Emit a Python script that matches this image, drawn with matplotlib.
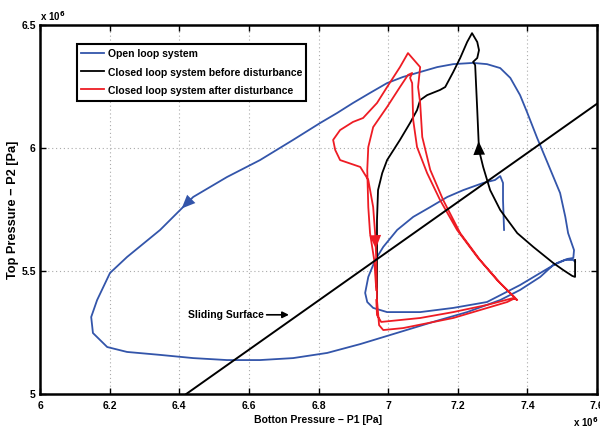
import matplotlib
matplotlib.use('Agg')
import matplotlib.pyplot as plt

plt.rcParams['font.family'] = ['Liberation Sans', 'DejaVu Sans']
plt.rcParams['font.weight'] = 'bold'

# P1 (fondo) y P2 (tope), en unidades de 1e6 Pa
# lazo abierto
open_p1 = [7.333, 7.330, 7.330, 7.322, 7.307, 7.273, 7.216, 7.170, 7.121, 7.072,
           7.026, 6.986, 6.963, 6.943, 6.934, 6.940, 6.957, 6.997, 7.092, 7.187,
           7.284, 7.379, 7.437, 7.486, 7.514, 7.532, 7.534, 7.517, 7.509, 7.494,
           7.457, 7.428, 7.399, 7.379, 7.351, 7.322, 7.284, 7.244, 7.187, 7.141,
           7.092, 7.043, 6.997, 6.948, 6.899, 6.853, 6.805, 6.727, 6.632, 6.537,
           6.440, 6.345, 6.250, 6.201, 6.164, 6.147, 6.152, 6.193, 6.250, 6.345,
           6.440, 6.537, 6.632, 6.727, 6.825, 6.920, 7.034, 7.129, 7.227, 7.322,
           7.379, 7.437, 7.474, 7.509, 7.532, 7.537]
open_p2 = [5.667, 5.789, 5.858, 5.886, 5.870, 5.858, 5.829, 5.801, 5.760, 5.720,
           5.667, 5.598, 5.545, 5.476, 5.411, 5.374, 5.350, 5.333, 5.333, 5.350,
           5.374, 5.443, 5.492, 5.533, 5.549, 5.553, 5.585, 5.654, 5.720, 5.817,
           5.943, 6.041, 6.146, 6.215, 6.285, 6.325, 6.341, 6.346, 6.341, 6.329,
           6.309, 6.289, 6.264, 6.224, 6.183, 6.142, 6.102, 6.033, 5.951, 5.882,
           5.801, 5.667, 5.557, 5.492, 5.382, 5.313, 5.248, 5.191, 5.171, 5.159,
           5.146, 5.138, 5.138, 5.146, 5.167, 5.203, 5.252, 5.293, 5.333, 5.382,
           5.423, 5.476, 5.524, 5.545, 5.545, 5.537]

# lazo cerrado antes de la perturbacion
antes_p1 = [7.537, 7.537, 7.529, 7.503, 7.474, 7.417, 7.371, 7.322, 7.293, 7.273,
            7.261, 7.256, 7.250, 7.244, 7.256, 7.261, 7.256, 7.241, 7.227, 7.207,
            7.187, 7.164, 7.149, 7.112, 7.092, 7.083, 7.063, 7.034, 6.997, 6.983,
            6.971, 6.968, 6.968, 6.968]
antes_p2 = [5.545, 5.476, 5.480, 5.504, 5.533, 5.598, 5.654, 5.748, 5.829, 5.923,
            5.992, 6.154, 6.337, 6.350, 6.366, 6.398, 6.431, 6.467, 6.431, 6.366,
            6.309, 6.248, 6.236, 6.215, 6.195, 6.154, 6.102, 6.033, 5.951, 5.898,
            5.829, 5.707, 5.545, 5.382]

# lazo cerrado despues de la perturbacion
despues_p1 = [6.966, 6.968, 6.980, 7.092, 7.187, 7.284, 7.359, 7.371, 7.322, 7.264,
              7.207, 7.158, 7.121, 7.098, 7.092, 7.086, 7.092, 7.057, 7.034, 6.997,
              6.968, 6.928, 6.899, 6.862, 6.842, 6.848, 6.862, 6.920, 6.943, 6.957,
              6.963, 6.966, 6.968, 6.974, 6.986, 7.043, 7.187, 7.342, 7.365, 7.313,
              7.256, 7.198, 7.149, 7.112, 7.083, 7.072, 7.069, 7.063, 7.069, 7.057,
              7.034, 6.997, 6.957, 6.943, 6.940, 6.943, 6.948, 6.960, 6.966]
despues_p2 = [5.382, 5.321, 5.293, 5.309, 5.333, 5.362, 5.390, 5.382, 5.451, 5.545,
              5.654, 5.789, 5.911, 6.045, 6.183, 6.248, 6.329, 6.386, 6.329, 6.248,
              6.183, 6.122, 6.106, 6.073, 6.033, 5.992, 5.951, 5.923, 5.870, 5.760,
              5.646, 5.545, 5.382, 5.280, 5.260, 5.268, 5.309, 5.374, 5.390, 5.463,
              5.557, 5.667, 5.789, 5.898, 6.004, 6.114, 6.264, 6.285, 6.305, 6.297,
              6.248, 6.167, 6.085, 6.004, 5.911, 5.760, 5.654, 5.545, 5.423]

# superficie de deslizamiento
sup_p1 = [6.42, 7.60]
sup_p2 = [5.00, 6.18]

azul = '#3355aa'
rojo = '#ee1c24'


def flecha(ax, xs, ys, i, t, color):
    # punta de flecha sobre el tramo i -> i+1
    xa = xs[i] + t * (xs[i + 1] - xs[i])
    ya = ys[i] + t * (ys[i + 1] - ys[i])
    ax.annotate('', xy=(xa, ya), xytext=(xs[i], ys[i]),
                arrowprops=dict(arrowstyle='-|>,head_length=0.7,head_width=0.3',
                                color=color, lw=0, shrinkA=0, shrinkB=0,
                                mutation_scale=14))


fig = plt.figure(figsize=(6, 4.3), dpi=100)
ax = fig.add_axes([0.0667, 0.0837, 0.9283, 0.8581])

ax.plot(open_p1, open_p2, color=azul, lw=1.3, label='Open loop system')
ax.plot(antes_p1, antes_p2, color='black', lw=1.3, label='Closed loop system before disturbance')
ax.plot(despues_p1, despues_p2, color=rojo, lw=1.3, label='Closed loop system after disturbance')
ax.plot(sup_p1, sup_p2, color='black', lw=1.4)

flecha(ax, open_p1, open_p2, 50, 0.35, azul)
flecha(ax, antes_p1, antes_p2, 10, 0.22, 'black')
flecha(ax, despues_p1, despues_p2, 30, 0.55, rojo)

ax.annotate('Sliding Surface', xy=(6.715, 5.322), xytext=(6.425, 5.322),
            fontsize=7.5, fontweight='bold', va='center', ha='left',
            arrowprops=dict(arrowstyle='-|>,head_length=0.5,head_width=0.25',
                            color='black', lw=1.2, shrinkA=0, shrinkB=0))

ax.set_xlim(6.0, 7.6)
ax.set_ylim(5.0, 6.5)
ax.set_xticks([6.0, 6.2, 6.4, 6.6, 6.8, 7.0, 7.2, 7.4, 7.6])
ax.set_xticklabels(['6', '6.2', '6.4', '6.6', '6.8', '7', '7.2', '7.4', '7.6'])
ax.set_yticks([5.0, 5.5, 6.0, 6.5])
ax.set_yticklabels(['5', '5.5', '6', '6.5'])
ax.tick_params(direction='in', length=4, width=1, top=True, right=True,
               labelsize=7.5)
ax.tick_params(axis='x', pad=5)
ax.tick_params(axis='y', pad=3)
ax.grid(True, color='#aaaaaa', linestyle=(0, (1, 2.5)), linewidth=0.8)
for s in ax.spines.values():
    s.set_linewidth(1.8)

ax.set_xlabel('Botton Pressure \u2212 P1 [Pa]', fontsize=7.5, fontweight='bold', labelpad=3)
ax.set_ylabel('Top Pressure \u2212 P2 [Pa]', fontsize=9.2, fontweight='bold', labelpad=2)

ax.text(0.0, 1.005, 'x 10$^{6}$', transform=ax.transAxes, fontsize=7,
        ha='left', va='bottom')
ax.text(0.957, -0.058, 'x 10$^{6}$', transform=ax.transAxes, fontsize=7,
        ha='left', va='top')

leg = ax.legend(loc='upper left', bbox_to_anchor=(0.066, 0.949), fontsize=7.5,
                handlelength=2.2, handleheight=1.4, handletextpad=0.35,
                borderpad=0.4, labelspacing=0.6, fancybox=False, framealpha=1,
                edgecolor='black', borderaxespad=0)
leg.get_frame().set_linewidth(1.5)

fig.savefig('out.png', dpi=100)
